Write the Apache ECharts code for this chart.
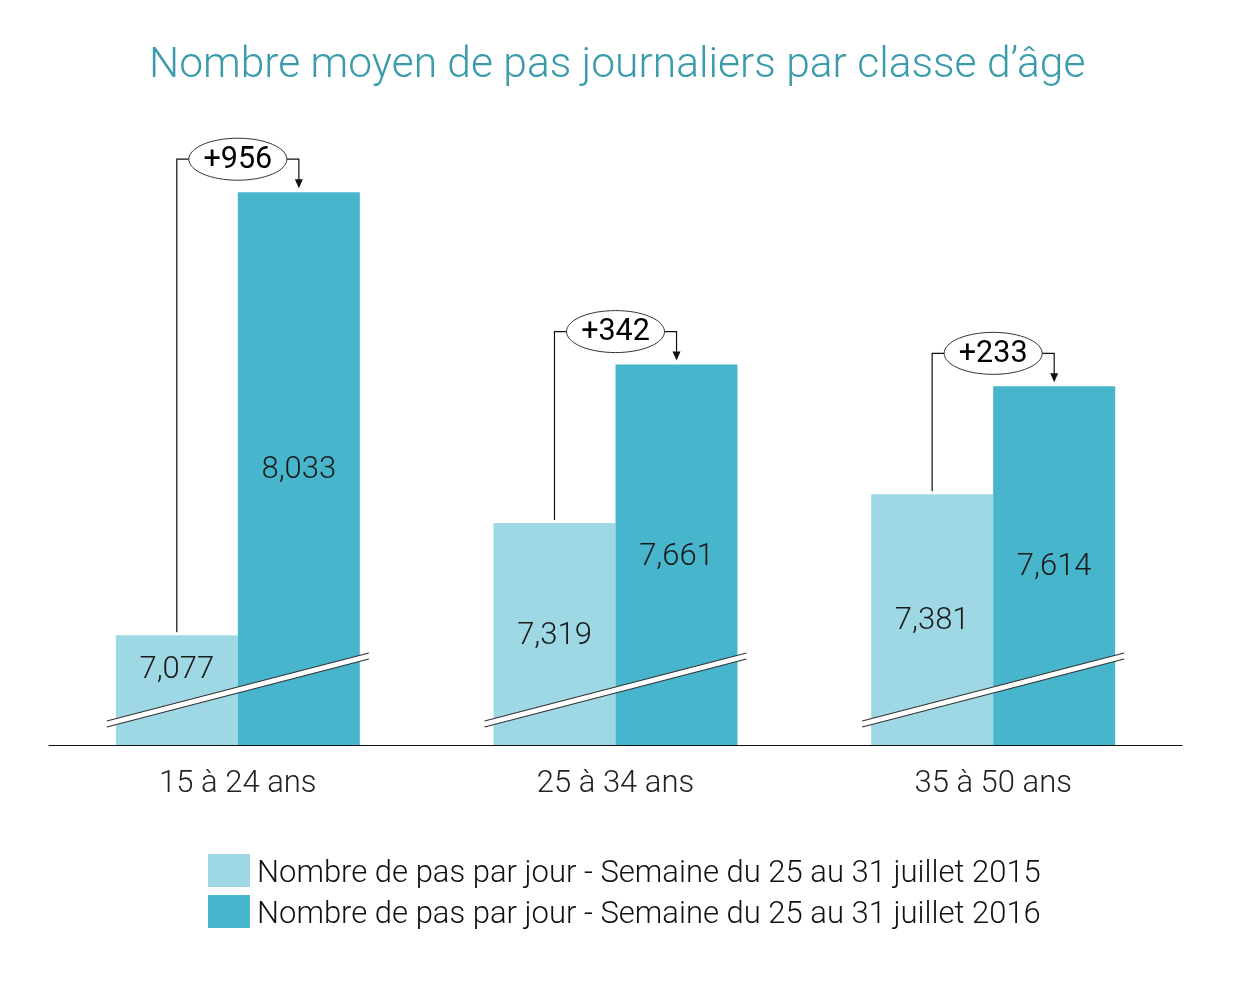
<!DOCTYPE html>
<html>
<head>
<meta charset="utf-8">
<script src="https://cdn.jsdelivr.net/npm/echarts@6/dist/echarts.min.js"></script>
<style>html,body{margin:0;padding:0;background:#fff}#c{width:1237px;height:982px}</style>
</head>
<body>
<div id="c"></div>
<script>
const categories = ['15 à 24 ans', '25 à 34 ans', '35 à 50 ans'];
const steps2015 = [7077, 7319, 7381];
const steps2016 = [8033, 7661, 7614];
const seriesNames = [
  'Nombre de pas par jour - Semaine du 25 au 31 juillet 2015',
  'Nombre de pas par jour - Semaine du 25 au 31 juillet 2016'
];
const titleText = 'Nombre moyen de pas journaliers par classe d\u2019âge';

const FONT = 'Roboto';
const fmt = v => v.toLocaleString('en-US');
const chart = echarts.init(document.getElementById('c'));

const annotData = categories.map((c, i) => [i, steps2015[i], steps2016[i]]);

function renderAnnot(params, api) {
  const idx = api.value(0);
  const v1 = api.value(1), v2 = api.value(2);
  const p1 = api.coord([idx, v1]);
  const p2 = api.coord([idx, v2]);
  const base = api.coord([idx, 6840])[1];
  const bw = api.size([1, 0])[0];
  const cx = p1[0];
  const half = bw * 0.1616;
  const lx = cx - half, rx = cx + half;
  const y1 = p1[1], y2 = p2[1];
  const yb = y2 - 33;
  const erx = 49, ery = 21;
  const children = [];
  const bl = cx - 131, br = cx + 131;
  children.push({
    type: 'polygon',
    shape: { points: [[bl, base - 24], [br, base - 92], [br, base - 86], [bl, base - 18]] },
    style: { fill: '#fff', stroke: null }
  });
  children.push({ type: 'line', shape: { x1: bl, y1: base - 24, x2: br, y2: base - 92 }, style: { stroke: '#333', lineWidth: 1.2 } });
  children.push({ type: 'line', shape: { x1: bl, y1: base - 18, x2: br, y2: base - 86 }, style: { stroke: '#333', lineWidth: 1.2 } });
  children.push({
    type: 'polyline',
    shape: { points: [[lx, y1 - 3], [lx, yb], [cx - erx, yb]] },
    style: { stroke: '#111', lineWidth: 1.2, fill: null }
  });
  children.push({
    type: 'polyline',
    shape: { points: [[cx + erx, yb], [rx, yb], [rx, y2 - 12]] },
    style: { stroke: '#111', lineWidth: 1.2, fill: null }
  });
  children.push({
    type: 'polygon',
    shape: { points: [[rx - 4, y2 - 13], [rx + 4, y2 - 13], [rx, y2 - 4]] },
    style: { fill: '#111' }
  });
  children.push({
    type: 'ellipse',
    shape: { cx: cx, cy: yb, rx: erx, ry: ery },
    style: { fill: '#fff', stroke: '#333', lineWidth: 1 }
  });
  children.push({
    type: 'text',
    style: {
      text: '+' + (v2 - v1), x: cx, y: yb + 1, align: 'center', verticalAlign: 'middle',
      font: '400 30.5px ' + FONT, fill: '#000'
    }
  });
  return { type: 'group', children: children };
}

const labelCommon = {
  show: true, position: 'inside', fontFamily: FONT, fontSize: 31, fontWeight: 300, color: '#1a1a1a',
  formatter: p => fmt(p.value), offset: [0, 2]
};

chart.setOption({
  backgroundColor: '#fff',
  animation: false,
  title: {
    text: titleText, left: 144, top: 40,
    textStyle: { fontFamily: FONT, fontSize: 42.5, fontWeight: 300, color: '#3a9bab' }
  },
  legend: {
    orient: 'vertical', left: 203, top: 849, itemWidth: 42, itemHeight: 33, itemGap: 5,
    icon: 'rect',
    data: seriesNames,
    formatter: name => '{a|' + name + '}',
    textStyle: {
      fontFamily: FONT, fontSize: 31, fontWeight: 300, color: '#111', padding: [0, 0, 0, 2],
      rich: { a: { fontFamily: FONT, fontSize: 31, fontWeight: 300, color: '#111', padding: [8, 0, 0, 0] } }
    }
  },
  grid: { left: 49, right: 55, top: 100, bottom: 237 },
  xAxis: {
    type: 'category', data: categories,
    axisLine: { lineStyle: { color: '#111', width: 1.2 } },
    axisTick: { show: false },
    axisLabel: { fontFamily: FONT, fontSize: 31, fontWeight: 300, color: '#222', margin: 24 }
  },
  yAxis: { type: 'value', min: 6840, max: 8232, show: false, splitLine: { show: false } },
  series: [
    {
      name: seriesNames[0], type: 'bar', barWidth: '32.3%', barGap: 0,
      itemStyle: { color: '#9ed8e4' },
      label: labelCommon,
      data: steps2015.map((v, i) => i === 0 ? { value: v, label: { offset: [0, -20] } } : v)
    },
    {
      name: seriesNames[1], type: 'bar', barWidth: '32.3%', barGap: 0,
      itemStyle: { color: '#47b5cc' },
      label: labelCommon,
      data: steps2016
    },
    {
      type: 'custom', renderItem: renderAnnot, clip: false, z: 5,
      encode: { x: 0, y: [1, 2] }, data: annotData, silent: true, tooltip: { show: false }
    }
  ]
});
</script>
</body>
</html>
